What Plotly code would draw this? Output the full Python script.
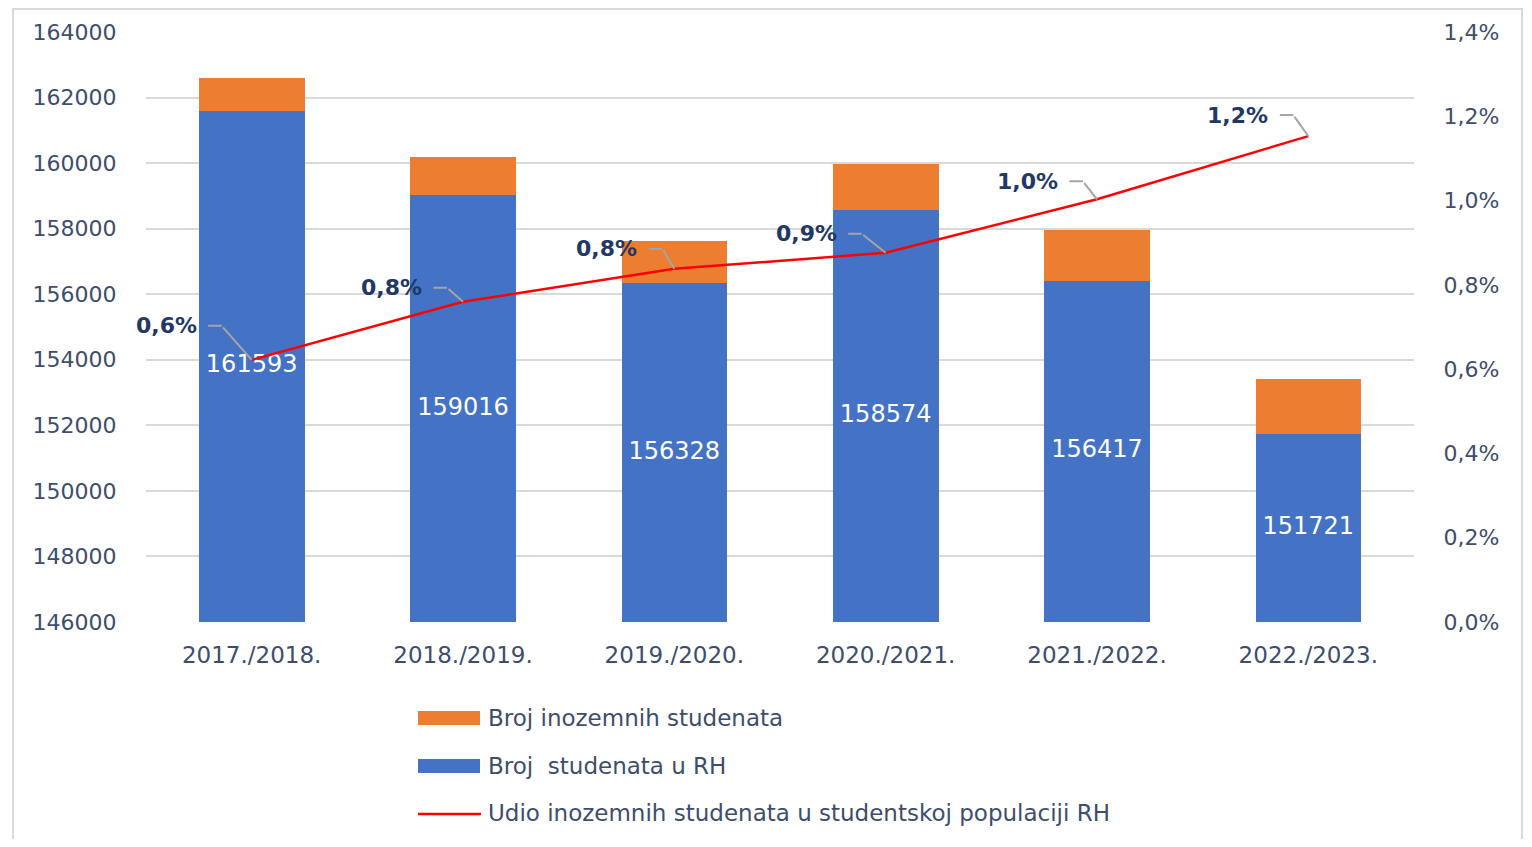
import plotly.graph_objects as go

# ---------------- data ----------------
categories = ["2017./2018.", "2018./2019.", "2019./2020.", "2020./2021.", "2021./2022.", "2022./2023."]
students_rh = [161593, 159016, 156328, 158574, 156417, 151721]
foreign_students = [1007, 1180, 1310, 1400, 1545, 1695]
foreign_share_pct = [0.622, 0.76, 0.838, 0.876, 1.003, 1.153]

left_tick_vals = [146000, 148000, 150000, 152000, 154000, 156000, 158000, 160000, 162000, 164000]
right_tick_vals = [0.0, 0.2, 0.4, 0.6, 0.8, 1.0, 1.2, 1.4]

name_foreign = "Broj inozemnih studenata"
name_rh = "Broj  studenata u RH"
name_share = "Udio inozemnih studenata u studentskoj populaciji RH"

# ---------------- style ----------------
BLUE = "#4472C4"
ORANGE = "#ED7D31"
RED = "#FF0000"
GRID = "#D9D9D9"
TXT = "#3E4D6C"
LABEL = "#1F3864"
LEADER = "#A5A5A5"
FONT = "DejaVu Sans"

OFF = 8  # page body margin
W, H = 1516, 831
L, T = 146 - OFF, 32 - OFF
PLOT_W, PLOT_H = 1268, 590
R = W - L - PLOT_W
B = H - T - PLOT_H
Y_MIN, Y_MAX = left_tick_vals[0], left_tick_vals[-1]

# leader-line pixel offsets (dx, dy) from each point to the elbow
leader_offsets = [(30, 34), (16, 14), (12, 20), (24, 19), (14, 18), (15, 21)]
HLEN = 15
GAP = 8

fig = go.Figure()

fig.add_trace(go.Bar(
    x=categories, y=students_rh, name=name_rh, marker_color=BLUE,
    marker_line_width=0, showlegend=False, yaxis="y"))
fig.add_trace(go.Bar(
    x=categories, y=foreign_students, name=name_foreign, marker_color=ORANGE,
    marker_line_width=0, showlegend=False, yaxis="y"))

# value labels centered in the visible blue part
fig.add_trace(go.Scatter(
    x=categories, y=[(Y_MIN + v) / 2 for v in students_rh],
    text=[str(v) for v in students_rh], mode="text",
    textfont=dict(family=FONT, size=24, color="white"),
    showlegend=False, hoverinfo="skip", yaxis="y"))

fig.add_trace(go.Scatter(
    x=categories, y=foreign_share_pct, name=name_share, mode="lines",
    line=dict(color=RED, width=2.5), showlegend=False, yaxis="y2"))

def pct(v):
    return f"{v:.1f}".replace(".", ",") + "%"

annotations = []
for cat, v, (dx, dy) in zip(categories, foreign_share_pct, leader_offsets):
    # diagonal leader
    annotations.append(dict(x=cat, y=v, xref="x", yref="y2", text="",
                            showarrow=True, arrowhead=0, arrowwidth=2,
                            arrowcolor=LEADER, ax=-dx, ay=-dy, standoff=0))
    # horizontal leader
    annotations.append(dict(x=cat, y=v, xref="x", yref="y2", text="",
                            showarrow=True, arrowhead=0, arrowwidth=2,
                            arrowcolor=LEADER, ax=-HLEN, ay=0,
                            xshift=-dx, yshift=dy, standoff=0))
    # label
    annotations.append(dict(x=cat, y=v, xref="x", yref="y2",
                            text="<b>" + pct(v) + "</b>",
                            showarrow=False, xanchor="right", yanchor="middle",
                            xshift=-(dx + HLEN + GAP), yshift=dy,
                            font=dict(family=FONT, size=22, color=LABEL)))

# custom legend (pixel positions in page coordinates)
def px_x(x):
    return (x - OFF - L) / PLOT_W
def px_y(y):
    return (T + PLOT_H - (y - OFF)) / PLOT_H

shapes = []
legend_items = [(name_foreign, "rect", ORANGE, 718),
                (name_rh, "rect", BLUE, 766),
                (name_share, "line", RED, 813)]
for name, kind, color, yc in legend_items:
    if kind == "rect":
        shapes.append(dict(type="rect", xref="paper", yref="paper",
                           x0=px_x(418), x1=px_x(480), y0=px_y(yc + 7), y1=px_y(yc - 7),
                           fillcolor=color, line=dict(width=0)))
    else:
        shapes.append(dict(type="line", xref="paper", yref="paper",
                           x0=px_x(418), x1=px_x(481), y0=px_y(yc + 1), y1=px_y(yc + 1),
                           line=dict(color=color, width=2.5)))
    annotations.append(dict(x=px_x(486), y=px_y(yc), xref="paper", yref="paper",
                            text=name, showarrow=False, xanchor="left", yanchor="middle",
                            font=dict(family=FONT, size=23, color=TXT)))

# outer border
shapes.append(dict(type="rect", xref="paper", yref="paper",
                   x0=px_x(13), x1=px_x(1522), y0=px_y(870), y1=px_y(OFF + 1),
                   line=dict(color=GRID, width=2), fillcolor="rgba(0,0,0,0)", layer="below"))

fig.update_layout(
    width=W, height=H,
    margin=dict(l=L, r=R, t=T, b=B, pad=0),
    barmode="stack", bargap=0.5,
    paper_bgcolor="white", plot_bgcolor="white",
    separators=", ",
    showlegend=False,
    font=dict(family=FONT, size=21, color=TXT),
    xaxis=dict(range=[-0.5, len(categories) - 0.5],
               tickfont=dict(family=FONT, size=23, color=TXT),
               showgrid=False, showline=False, ticks="outside",
               ticklen=12, tickcolor="rgba(0,0,0,0)"),
    yaxis=dict(range=[Y_MIN, Y_MAX], tickvals=left_tick_vals, tickformat="d",
               showgrid=True, gridcolor=GRID, gridwidth=2,
               zeroline=False, showline=False,
               ticks="outside", ticklen=24, tickcolor="rgba(0,0,0,0)",
               tickfont=dict(family=FONT, size=22, color=TXT)),
    yaxis2=dict(range=[0, 1.4], tickvals=right_tick_vals,
                ticktext=[pct(v) for v in right_tick_vals],
                overlaying="y", side="right", showgrid=False,
                zeroline=False, showline=False,
                ticks="outside", ticklen=24, tickcolor="rgba(0,0,0,0)",
                tickfont=dict(family=FONT, size=22, color=TXT)),
    annotations=annotations,
    shapes=shapes,
)

fig.write_html("out.html")
